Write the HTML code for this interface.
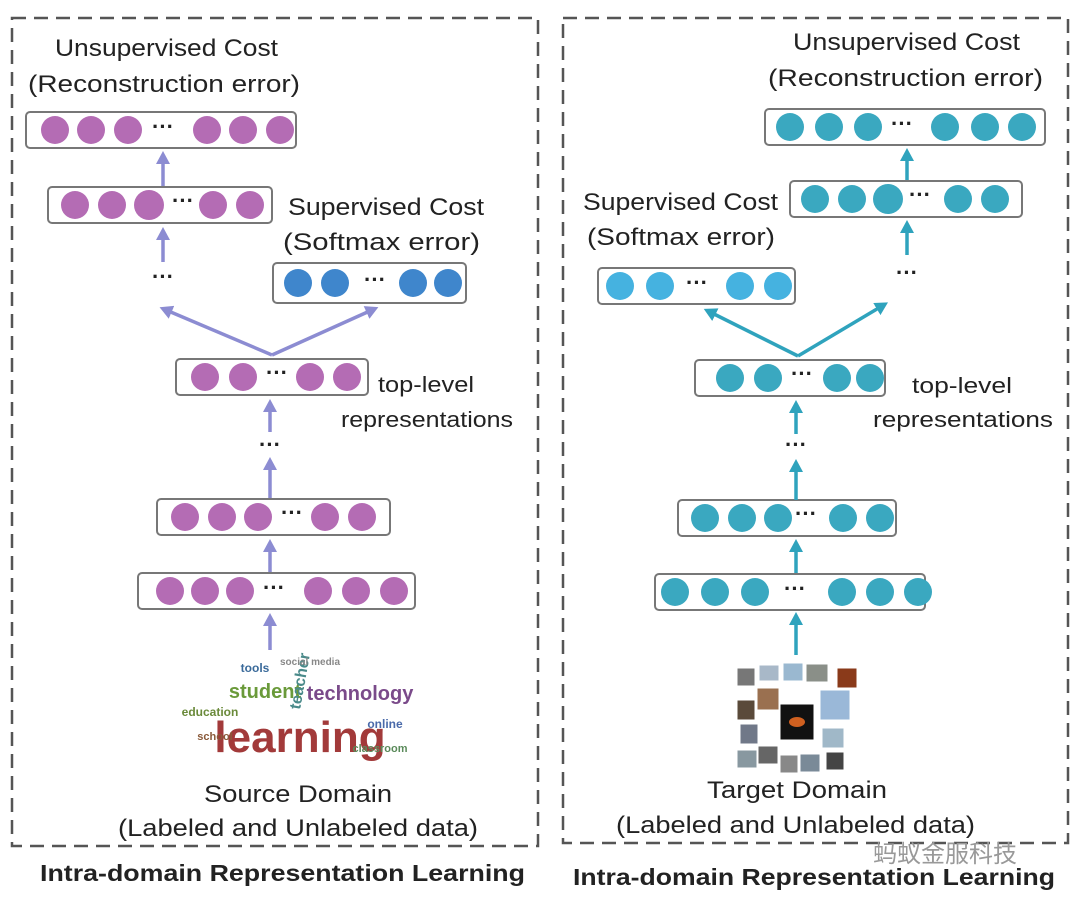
<!DOCTYPE html>
<html><head><meta charset="utf-8"><style>
body{margin:0;background:#fff;}
svg{display:block;font-family:"Liberation Sans","Noto Sans CJK SC",sans-serif;}
</style></head><body>
<svg width="1080" height="900" viewBox="0 0 1080 900" xmlns="http://www.w3.org/2000/svg">
<defs>
<marker id="ap" markerWidth="14" markerHeight="14" refX="6" refY="7" orient="auto" markerUnits="userSpaceOnUse"><path d="M0,0 L13,7 L0,14 z" fill="#8c8cd2"/></marker>
<marker id="at" markerWidth="14" markerHeight="14" refX="6" refY="7" orient="auto" markerUnits="userSpaceOnUse"><path d="M0,0 L13,7 L0,14 z" fill="#2fa3bd"/></marker>
</defs>
<rect x="12" y="18" width="526" height="828" fill="none" stroke="#555" stroke-width="2.5" stroke-dasharray="14,8"/>
<rect x="563" y="18" width="505" height="825" fill="none" stroke="#555" stroke-width="2.5" stroke-dasharray="14,8"/>
<g fill="#222" font-size="24">
<text x="55" y="56" textLength="223" lengthAdjust="spacingAndGlyphs">Unsupervised Cost</text>
<text x="28" y="92" textLength="272" lengthAdjust="spacingAndGlyphs">(Reconstruction error)</text>
<text x="288" y="215" textLength="196" lengthAdjust="spacingAndGlyphs">Supervised Cost</text>
<text x="283" y="250" textLength="197" lengthAdjust="spacingAndGlyphs">(Softmax error)</text>
<text x="793" y="50" textLength="227" lengthAdjust="spacingAndGlyphs">Unsupervised Cost</text>
<text x="768" y="86" textLength="275" lengthAdjust="spacingAndGlyphs">(Reconstruction error)</text>
<text x="583" y="210" textLength="195" lengthAdjust="spacingAndGlyphs">Supervised Cost</text>
<text x="587" y="245" textLength="188" lengthAdjust="spacingAndGlyphs">(Softmax error)</text>
<text x="204" y="802" textLength="188" lengthAdjust="spacingAndGlyphs">Source Domain</text>
<text x="118" y="836" textLength="360" lengthAdjust="spacingAndGlyphs">(Labeled and Unlabeled data)</text>
<text x="707" y="798" textLength="180" lengthAdjust="spacingAndGlyphs">Target Domain</text>
<text x="616" y="833" textLength="359" lengthAdjust="spacingAndGlyphs">(Labeled and Unlabeled data)</text>
</g>
<g fill="#222" font-size="22">
<text x="378" y="392" textLength="96" lengthAdjust="spacingAndGlyphs">top-level</text>
<text x="341" y="427" textLength="172" lengthAdjust="spacingAndGlyphs">representations</text>
<text x="912" y="393" textLength="100" lengthAdjust="spacingAndGlyphs">top-level</text>
<text x="873" y="427" textLength="180" lengthAdjust="spacingAndGlyphs">representations</text>
</g>
<g fill="#222" font-size="23" font-weight="bold">
<text x="40" y="881" textLength="485" lengthAdjust="spacingAndGlyphs">Intra-domain Representation Learning</text>
<text x="573" y="885" textLength="482" lengthAdjust="spacingAndGlyphs">Intra-domain Representation Learning</text>
</g>
<text x="945" y="862" fill="#999" font-size="24" text-anchor="middle">蚂蚁金服科技</text>
<g fill="none" stroke="#777" stroke-width="2">
<rect x="26" y="112" width="270" height="36" rx="4"/>
<rect x="48" y="187" width="224" height="36" rx="4"/>
<rect x="273" y="263" width="193" height="40" rx="4"/>
<rect x="176" y="359" width="192" height="36" rx="4"/>
<rect x="157" y="499" width="233" height="36" rx="4"/>
<rect x="138" y="573" width="277" height="36" rx="4"/>
<rect x="765" y="109" width="280" height="36" rx="4"/>
<rect x="790" y="181" width="232" height="36" rx="4"/>
<rect x="598" y="268" width="197" height="36" rx="4"/>
<rect x="695" y="360" width="190" height="36" rx="4"/>
<rect x="678" y="500" width="218" height="36" rx="4"/>
<rect x="655" y="574" width="270" height="36" rx="4"/>
</g>
<g fill="#b46cb4">
<circle cx="55" cy="130" r="14"/><circle cx="91" cy="130" r="14"/><circle cx="128" cy="130" r="14"/><circle cx="207" cy="130" r="14"/><circle cx="243" cy="130" r="14"/><circle cx="280" cy="130" r="14"/>
<circle cx="75" cy="205" r="14"/><circle cx="112" cy="205" r="14"/><circle cx="149" cy="205" r="15"/><circle cx="213" cy="205" r="14"/><circle cx="250" cy="205" r="14"/>
<circle cx="205" cy="377" r="14"/><circle cx="243" cy="377" r="14"/><circle cx="310" cy="377" r="14"/><circle cx="347" cy="377" r="14"/>
<circle cx="185" cy="517" r="14"/><circle cx="222" cy="517" r="14"/><circle cx="258" cy="517" r="14"/><circle cx="325" cy="517" r="14"/><circle cx="362" cy="517" r="14"/>
<circle cx="170" cy="591" r="14"/><circle cx="205" cy="591" r="14"/><circle cx="240" cy="591" r="14"/><circle cx="318" cy="591" r="14"/><circle cx="356" cy="591" r="14"/><circle cx="394" cy="591" r="14"/>
</g>
<g fill="#3f86cc">
<circle cx="298" cy="283" r="14"/><circle cx="335" cy="283" r="14"/><circle cx="413" cy="283" r="14"/><circle cx="448" cy="283" r="14"/>
</g>
<g fill="#3aa8c0">
<circle cx="790" cy="127" r="14"/><circle cx="829" cy="127" r="14"/><circle cx="868" cy="127" r="14"/><circle cx="945" cy="127" r="14"/><circle cx="985" cy="127" r="14"/><circle cx="1022" cy="127" r="14"/>
<circle cx="815" cy="199" r="14"/><circle cx="852" cy="199" r="14"/><circle cx="888" cy="199" r="15"/><circle cx="958" cy="199" r="14"/><circle cx="995" cy="199" r="14"/>
<circle cx="730" cy="378" r="14"/><circle cx="768" cy="378" r="14"/><circle cx="837" cy="378" r="14"/><circle cx="870" cy="378" r="14"/>
<circle cx="705" cy="518" r="14"/><circle cx="742" cy="518" r="14"/><circle cx="778" cy="518" r="14"/><circle cx="843" cy="518" r="14"/><circle cx="880" cy="518" r="14"/>
<circle cx="675" cy="592" r="14"/><circle cx="715" cy="592" r="14"/><circle cx="755" cy="592" r="14"/><circle cx="842" cy="592" r="14"/><circle cx="880" cy="592" r="14"/><circle cx="918" cy="592" r="14"/>
</g>
<g fill="#45b2e0">
<circle cx="620" cy="286" r="14"/><circle cx="660" cy="286" r="14"/><circle cx="740" cy="286" r="14"/><circle cx="778" cy="286" r="14"/>
</g>
<g fill="#222" font-size="22" font-weight="bold" text-anchor="middle">
<text x="163" y="134">···</text><text x="183" y="208">···</text><text x="375" y="287">···</text><text x="277" y="380">···</text><text x="292" y="520">···</text><text x="274" y="595">···</text>
<text x="163" y="284">···</text><text x="270" y="452">···</text>
<text x="902" y="131">···</text><text x="920" y="202">···</text><text x="697" y="290">···</text><text x="802" y="381">···</text><text x="806" y="521">···</text><text x="795" y="596">···</text>
<text x="907" y="280">···</text><text x="796" y="452">···</text>
</g>
<g stroke="#8c8cd2" stroke-width="3.5" fill="none">
<line x1="163" y1="186" x2="163" y2="158" marker-end="url(#ap)"/>
<line x1="163" y1="262" x2="163" y2="234" marker-end="url(#ap)"/>
<line x1="272" y1="355" x2="166" y2="310" marker-end="url(#ap)"/>
<line x1="272" y1="355" x2="372" y2="310" marker-end="url(#ap)"/>
<line x1="270" y1="432" x2="270" y2="406" marker-end="url(#ap)"/>
<line x1="270" y1="498" x2="270" y2="464" marker-end="url(#ap)"/>
<line x1="270" y1="572" x2="270" y2="546" marker-end="url(#ap)"/>
<line x1="270" y1="650" x2="270" y2="620" marker-end="url(#ap)"/>
</g>
<g stroke="#2fa3bd" stroke-width="3.5" fill="none">
<line x1="907" y1="180" x2="907" y2="155" marker-end="url(#at)"/>
<line x1="907" y1="255" x2="907" y2="227" marker-end="url(#at)"/>
<line x1="798" y1="356" x2="710" y2="312" marker-end="url(#at)"/>
<line x1="798" y1="356" x2="882" y2="306" marker-end="url(#at)"/>
<line x1="796" y1="434" x2="796" y2="407" marker-end="url(#at)"/>
<line x1="796" y1="500" x2="796" y2="466" marker-end="url(#at)"/>
<line x1="796" y1="573" x2="796" y2="546" marker-end="url(#at)"/>
<line x1="796" y1="655" x2="796" y2="619" marker-end="url(#at)"/>
</g>
<g font-weight="bold" text-anchor="middle">
<text x="300" y="752" font-size="44" fill="#a23a3a">learning</text>
<text x="265" y="698" font-size="20" fill="#6a9a3a">student</text>
<text x="360" y="700" font-size="20" fill="#7a4a8a">technology</text>
<text x="305" y="682" font-size="16" fill="#4a8a8a" transform="rotate(-80 305 682)">teacher</text>
<text x="255" y="672" font-size="12" fill="#3a6a9a">tools</text>
<text x="210" y="716" font-size="12" fill="#6a8a3a">education</text>
<text x="385" y="728" font-size="12" fill="#4a6aaa">online</text>
<text x="215" y="740" font-size="11" fill="#8a5a3a">school</text>
<text x="380" y="752" font-size="11" fill="#5a8a5a">classroom</text>
<text x="310" y="665" font-size="10" fill="#888">social media</text>
</g>
<g stroke="#fff" stroke-width="1">
<rect x="737" y="668" width="18" height="18" fill="#777"/>
<rect x="759" y="665" width="20" height="16" fill="#a8b8c8"/>
<rect x="783" y="663" width="20" height="18" fill="#9ab8d0"/>
<rect x="806" y="664" width="22" height="18" fill="#8a8f88"/>
<rect x="837" y="668" width="20" height="20" fill="#8a3a1a"/>
<rect x="757" y="688" width="22" height="22" fill="#9a7050"/>
<rect x="820" y="690" width="30" height="30" fill="#9ab8d8"/>
<rect x="737" y="700" width="18" height="20" fill="#5a4a3a"/>
<rect x="780" y="704" width="34" height="36" fill="#111"/>
<rect x="740" y="724" width="18" height="20" fill="#707888"/>
<rect x="822" y="728" width="22" height="20" fill="#a0b8c8"/>
<rect x="737" y="750" width="20" height="18" fill="#8898a0"/>
<rect x="758" y="746" width="20" height="18" fill="#666"/>
<rect x="780" y="755" width="18" height="18" fill="#888"/>
<rect x="800" y="754" width="20" height="18" fill="#7a8a98"/>
<rect x="826" y="752" width="18" height="18" fill="#444"/>
</g>
<ellipse cx="797" cy="722" rx="8" ry="5" fill="#d06020"/>
</svg>
</body></html>
